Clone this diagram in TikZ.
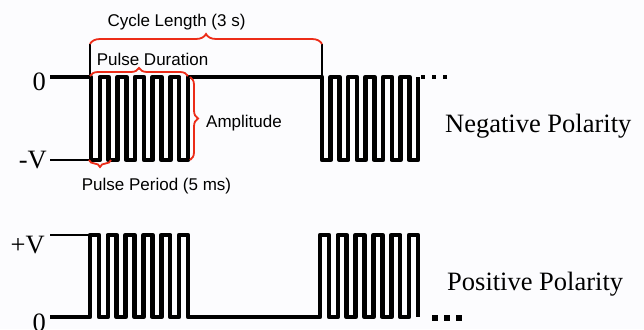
\documentclass[tikz,border=0pt]{standalone}
\usepackage{fontspec}
\setmainfont{Liberation Serif}
\setsansfont{Liberation Sans}
\usetikzlibrary{decorations.pathreplacing}
\definecolor{bracered}{RGB}{236,44,24}
\definecolor{bgcol}{RGB}{252,252,254}
\begin{document}
\begin{tikzpicture}[x=1pt,y=-1pt,
  wave/.style={line width=4.6pt, line join=round},
  levelline/.style={line width=1.5pt},
  marker/.style={line width=1.7pt},
  brc/.style={draw=bracered, line width=1.8pt, decorate, decoration={brace, amplitude=#1}},
  serif/.style={font=\fontsize{26.5}{30}\selectfont, inner sep=0pt},
  sans/.style={font=\sffamily\fontsize{17}{20}\selectfont, inner sep=0pt},
  dotbox/.style={fill=black, minimum size=#1, inner sep=0pt, draw=none, rectangle}
]
\useasboundingbox[fill=bgcol] (0,0) rectangle (644,329);

% ---------- Negative polarity waveform ----------
\coordinate (nStart) at (50,77);
\coordinate (nA) at (91,77);
\coordinate (nB) at (322,77);
\draw[wave] (nStart) -- (nA)
  foreach \i in {1,...,5} { -- ++(0,83) -- ++(8.818,0) -- ++(0,-83) -- ++(8.818,0) }
  -- ++(0,83) -- ++(8.818,0) -- ++(0,-83) -- (nB)
  foreach \i in {1,...,5} { -- ++(0,83) -- ++(8.727,0) -- ++(0,-83) -- ++(8.727,0) }
  -- ++(0,83) -- ++(8.727,0) -- ++(0,-83);
\coordinate (nVl) at (50,160);
\coordinate (nVr) at (91,160);
\draw[levelline] (nVl) -- (nVr);
\node[dotbox=4.5pt] (nd1) at (423,77) {};
\node[dotbox=4.5pt] (nd2) at (434,77) {};
\node[dotbox=4.5pt] (nd3) at (445,77) {};

% ---------- Positive polarity waveform ----------
\coordinate (pStart) at (50,317);
\coordinate (pA) at (90,317);
\coordinate (pB) at (320,317);
\draw[wave] (pStart) -- (pA)
  foreach \i in {1,...,5} { -- ++(0,-82) -- ++(8.91,0) -- ++(0,82) -- ++(8.91,0) }
  -- ++(0,-82) -- ++(8.91,0) -- ++(0,82) -- (pB)
  foreach \i in {1,...,5} { -- ++(0,-82) -- ++(8.91,0) -- ++(0,82) -- ++(8.91,0) }
  -- ++(0,-82) -- ++(8.91,0) -- ++(0,82);
\coordinate (pVl) at (50,235);
\coordinate (pVr) at (90,235);
\draw[levelline] (pVl) -- (pVr);
\node[dotbox=6pt] (pd1) at (435,318) {};
\node[dotbox=6pt] (pd2) at (447,318) {};
\node[dotbox=6pt] (pd3) at (459,318) {};

% ---------- axis labels ----------
\node[serif, anchor=base east] (zeroT) at (46,90) {0};
\node[serif, anchor=base east] (negV) at (47,168) {-V};
\node[serif, anchor=base east] (posV) at (45,253) {+V};
\node[serif, anchor=base east] (zeroB) at (46,331) {0};
\node[serif, anchor=base west] (negP) at (445,132) {Negative Polarity};
\node[serif, anchor=base west] (posP) at (447,290) {Positive Polarity};

% ---------- annotations ----------
\coordinate (cycL) at (90,44);
\coordinate (cycR) at (322,44);
\coordinate (cycLb) at (90,77);
\coordinate (cycRb) at (322,77);
\draw[marker] (cycL) -- (cycLb);
\draw[marker] (cycR) -- (cycRb);
\draw[brc=10pt] (cycL) -- (cycR);
\node[sans, anchor=base] (cyc) at (176.5,26.5) {Cycle Length (3 s)};

\coordinate (pdL) at (90,76);
\coordinate (pdR) at (188,76);
\draw[brc=8pt] (pdL) -- (pdR);
\node[sans, anchor=base] (pdur) at (152.5,65.5) {Pulse Duration};

\coordinate (ampT) at (190,77);
\coordinate (ampB) at (190,160);
\draw[brc=8pt] (ampT) -- (ampB);
\node[sans, anchor=base west] (amp) at (206,127) {Amplitude};

\coordinate (ppR) at (111,160);
\coordinate (ppL) at (89,160);
\draw[brc=7pt] (ppR) -- (ppL);
\node[sans, anchor=base] (pper) at (156.5,190) {Pulse Period (5 ms)};
\end{tikzpicture}
\end{document}
